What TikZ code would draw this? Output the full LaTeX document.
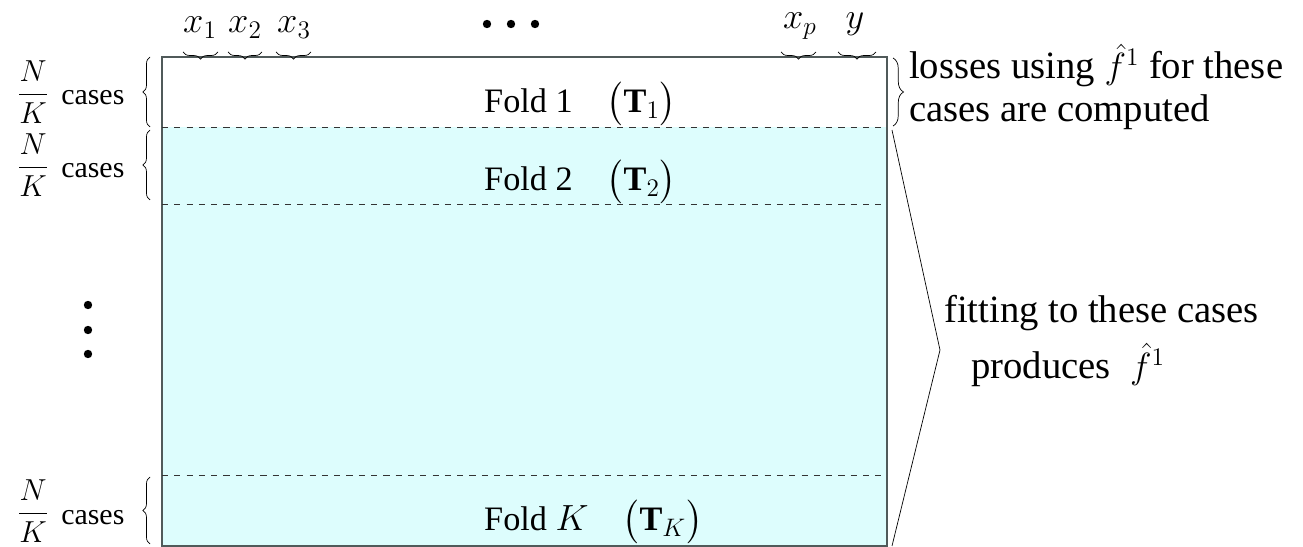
\documentclass[tikz,border=0pt]{standalone}
\usepackage{amsmath}
\usepackage{fontspec}
\setmainfont{Liberation Serif}
\usetikzlibrary{decorations.pathreplacing, positioning}
\definecolor{cFill}{HTML}{DDFDFD}
\definecolor{cEdge}{HTML}{505A5A}

\begin{document}
\begin{tikzpicture}[x=0.02cm, y=-0.02cm,
      fold/.style = {anchor=base west, font=\fontsize{19.5}{22}\selectfont},
      side/.style = {anchor=west, align=left, font=\fontsize{22}{24.5}\selectfont},
      nk/.style   = {font=\fontsize{17}{20}\selectfont},
      var/.style  = {anchor=base, inner sep=1pt, font=\fontsize{20}{22}\selectfont},
      sep/.style  = {draw=black!80, dash pattern=on 3.5pt off 3.5pt, thin},
      brc/.style  = {decorate, decoration={brace, amplitude=4pt}, thin},
      lbrc/.style = {decorate, decoration={brace, amplitude=6pt}, thin} ]
    \useasboundingbox (0,0) rectangle (1303,547);
    % table of cases
    \coordinate (tl) at (162,57);  \coordinate (tr) at (887,57);
    \coordinate (bl) at (162,546); \coordinate (br) at (887,546);
    \fill[cFill] (162,127) rectangle (br);
    \draw[cEdge, semithick] (tl) rectangle (br);
    \draw[sep] (162,127) -- (887,127);
    \draw[sep] (162,204) -- (887,204);
    \draw[sep] (162,475) -- (887,475);
    \node[fold] (f1) at (478,113) {Fold 1\quad$\bigl(\mathbf{T}_1\bigr)$};
    \node[fold] (f2) at (478,191) {Fold 2\quad$\bigl(\mathbf{T}_2\bigr)$};
    \node[fold] (fK) at (478,531) {Fold $K$\quad$\bigl(\mathbf{T}_K\bigr)$};
    % variables on top
    \node[var] (x1) at (200,33) {$x_1$};
    \node[var] (x2) at (245,33) {$x_2$};
    \node[var] (x3) at (294,33) {$x_3$};
    \node[var] (xp) at (800,29) {$x_p$};
    \node[var] (yy) at (855,29) {$y$};
    \foreach \a/\b in {183/218, 228/262, 276/311, 781/816, 838/876}
      \draw[brc] (\b,52) -- (\a,52);
    \foreach \x in {487,511,535} \fill (\x,24) circle (4.2);
    % case counts on the left
    \foreach \t/\b/\m in {57/127/92, 130/200/165, 477/544/511} {
      \node[nk] at (33,\m) {$\dfrac{N}{K}$};
      \node[nk, anchor=base west, inner sep=0pt] at (61,\m+13) {cases};
      \draw[brc] (150,\b) -- (150,\t);
    }
    \foreach \y in {305,330,354} \fill (88,\y) circle (4.2);
    % right side notes
    \draw[lbrc] (893,58) -- (893,126);
    \node[side] (loss) at (903,87) {losses using $\hat{f}^{1}$ for these\\cases are computed};
    \coordinate (ang) at (940,350);
    \draw[thin] (892,130) -- (ang) -- (892,546);
    \node[side] (fit) at (938,341) {fitting to these cases\\[6pt]\hspace*{0.7em}produces\enspace$\hat{f}^{1}$};
  \end{tikzpicture}
\end{document}
